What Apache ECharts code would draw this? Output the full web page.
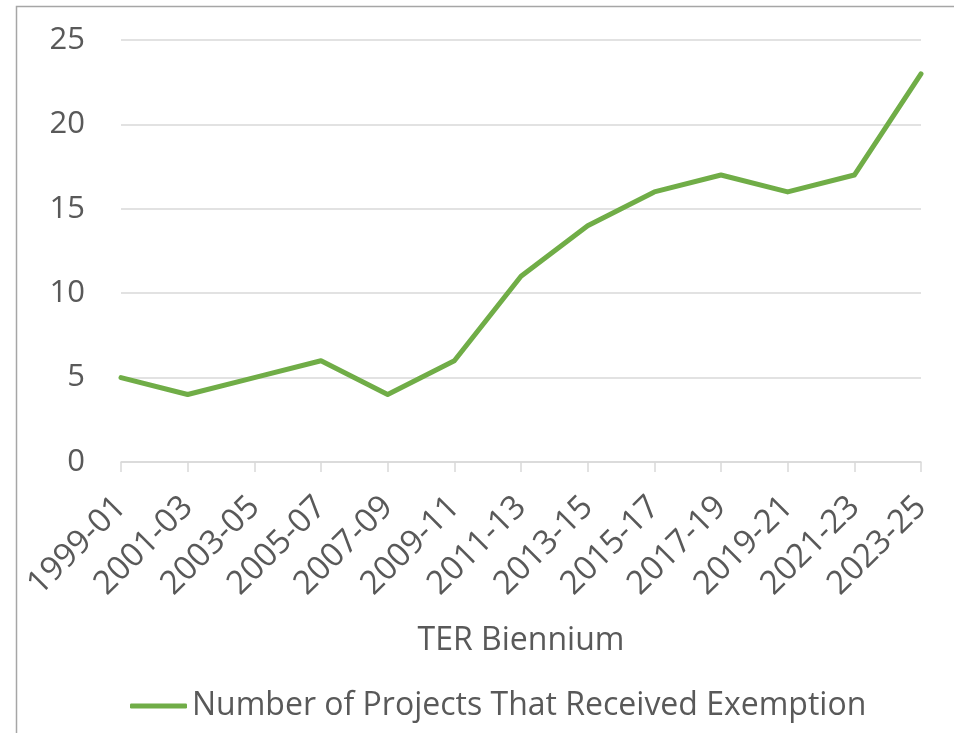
<!DOCTYPE html>
<html>
<head>
<meta charset="utf-8">
<script src="https://cdn.jsdelivr.net/npm/echarts@6/dist/echarts.min.js"></script>
<style>
html,body{margin:0;padding:0;background:#fff;}
#main{width:954px;height:733px;}
</style>
</head>
<body>
<div id="main"></div>
<script>
const categories = ['1999-01','2001-03','2003-05','2005-07','2007-09','2009-11','2011-13','2013-15','2015-17','2017-19','2019-21','2021-23','2023-25'];
const projects = [5,4,5,6,4,6,11,14,16,17,16,17,23];
const seriesName = 'Number of Projects That Received Exemption';
const xAxisTitle = 'TER Biennium';

const chart = echarts.init(document.getElementById('main'), null, {renderer:'canvas'});
const FONT = '"Open Sans", "Noto Sans", sans-serif';
const TXT = '#595959';
chart.setOption({
  animation:false,
  backgroundColor:'#fff',
  graphic:[{
    type:'rect', silent:true, z:-10,
    shape:{x:16.5, y:6.5, width:2000, height:2000},
    style:{fill:'none', stroke:'#a6a6a6', lineWidth:1.5}
  }],
  grid:{left:121, right:33, top:40, bottom:271, containLabel:false},
  legend:{
    bottom:6, left:125,
    data:[{name:seriesName, icon:'roundRect'}],
    itemWidth:57, itemHeight:5, itemGap:6,
    textStyle:{color:TXT, fontSize:32, fontFamily:FONT}
  },
  xAxis:{
    type:'category', data:categories, boundaryGap:false,
    name:xAxisTitle, nameLocation:'middle', nameGap:163,
    nameTextStyle:{color:TXT, fontSize:32, fontFamily:FONT},
    axisLine:{lineStyle:{color:'#d9d9d9', width:1.5}},
    axisTick:{show:true, alignWithLabel:true, length:10, lineStyle:{color:'#d9d9d9', width:1.5}},
    axisLabel:{rotate:45, color:TXT, fontSize:33, fontFamily:FONT, margin:40, interval:0},
    splitLine:{show:false}
  },
  yAxis:{
    type:'value', min:0, max:25, interval:5,
    axisLine:{show:false}, axisTick:{show:false},
    axisLabel:{color:TXT, fontSize:31, fontFamily:FONT, margin:36},
    splitLine:{lineStyle:{color:'#d9d9d9', width:1.5}}
  },
  series:[{
    name:seriesName, type:'line', data:projects,
    showSymbol:false, symbol:'none',
    itemStyle:{color:'#70ad47'},
    lineStyle:{color:'#70ad47', width:5, cap:'round', join:'round'}
  }]
});
</script>
</body>
</html>
